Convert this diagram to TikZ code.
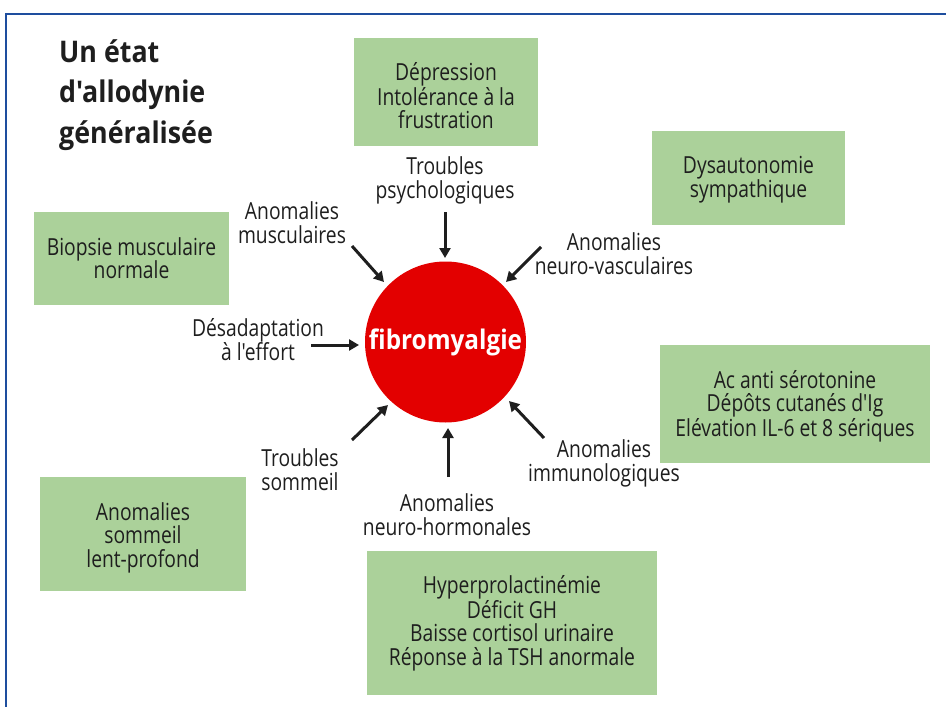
\documentclass[tikz,border=0pt]{standalone}
\usepackage{fontspec}
\setmainfont{Open Sans}[FakeStretch=0.82, Ligatures=TeXOff]
\newfontfamily\widefont{Open Sans}[FakeStretch=0.9, Ligatures=TeXOff]
\usetikzlibrary{arrows.meta}
\definecolor{frameblue}{RGB}{30,78,158}
\definecolor{boxgreen}{RGB}{171,209,154}
\definecolor{circred}{RGB}{227,0,0}
\definecolor{txt}{RGB}{30,30,30}
\tikzset{
  gbox/.style={fill=boxgreen, draw=none, inner sep=0pt},
  lbl/.style={align=center, inner sep=0pt, text=txt, font=\fontsize{23.5}{23.5}\selectfont},
  arr/.style={line width=3pt, draw=txt, -{Triangle[length=10pt,width=11pt]}}
}
\begin{document}
\begin{tikzpicture}[x=1pt,y=-1pt]
\useasboundingbox (0,0) rectangle (946,707);
% frame
\draw[frameblue, line width=2pt] (6,707) -- (6,14) -- (946,14);
% title
\node[anchor=west, align=left, inner sep=0pt, text=txt, font=\widefont\bfseries\fontsize{29.8}{40.5}\selectfont] (title) at (59,95) {Un état\\d'allodynie\\généralisée};
% boxes
\node[gbox, minimum width=184pt, minimum height=108pt] (b1) at (446,92) {};
\node[gbox, minimum width=193pt, minimum height=94pt] (b2) at (748.5,178) {};
\node[gbox, minimum width=195pt, minimum height=93pt] (b3) at (131.5,258.5) {};
\node[gbox, minimum width=270pt, minimum height=118pt] (b4) at (795,404) {};
\node[gbox, minimum width=206pt, minimum height=114pt] (b5) at (143,534) {};
\node[gbox, minimum width=290pt, minimum height=144pt] (b6) at (512,623) {};
\node[lbl] (t1) at (446,96) {Dépression\\Intolérance à la\\frustration};
\node[lbl] (t2) at (748.5,179.5) {Dysautonomie\\sympathique};
\node[lbl] (t3) at (131.5,258) {Biopsie musculaire\\normale};
\node[lbl] (t4) at (795,406) {Ac anti sérotonine\\Dépôts cutanés d'Ig\\Elévation IL-6 et 8 sériques};
\node[lbl] (t5) at (143,537.5) {Anomalies\\sommeil\\lent-profond};
\node[lbl] (t6) at (512,623) {Hyperprolactinémie\\Déficit GH\\Baisse cortisol urinaire\\Réponse à la TSH anormale};
% circle
\node[circle, fill=circred, minimum size=161pt, inner sep=0pt, text=white, font=\widefont\bfseries\fontsize{27}{30}\selectfont] (fm) at (445.5,342) {fibromyalgie};
% labels
\node[lbl] (l1) at (445,180.5) {Troubles\\psychologiques};
\node[lbl] (l2) at (292,222.5) {Anomalies\\musculaires};
\node[lbl] (l3) at (614,253.5) {Anomalies\\neuro-vasculaires};
\node[lbl] (l4) at (258,339.5) {Désadaptation\\à l'effort};
\node[lbl] (l5) at (300,469.5) {Troubles\\sommeil};
\node[lbl] (l6) at (447,514.5) {Anomalies\\neuro-hormonales};
\node[lbl] (l7) at (604,463.5) {Anomalies\\immunologiques};
% arrow coordinates
\coordinate (a1s) at (445,212); \coordinate (a1e) at (445,258);
\coordinate (a2s) at (352,246); \coordinate (a2e) at (384,282);
\coordinate (a3s) at (541,247); \coordinate (a3e) at (506,282);
\coordinate (a4s) at (311,345); \coordinate (a4e) at (359,345);
\coordinate (a5s) at (352,440); \coordinate (a5e) at (388,405);
\coordinate (a6s) at (448,477); \coordinate (a6e) at (448,428);
\coordinate (a7s) at (544,438); \coordinate (a7e) at (509,401);
\draw[arr] (a1s) -- (a1e);
\draw[arr] (a2s) -- (a2e);
\draw[arr] (a3s) -- (a3e);
\draw[arr] (a4s) -- (a4e);
\draw[arr] (a5s) -- (a5e);
\draw[arr] (a6s) -- (a6e);
\draw[arr] (a7s) -- (a7e);
\end{tikzpicture}
\end{document}
